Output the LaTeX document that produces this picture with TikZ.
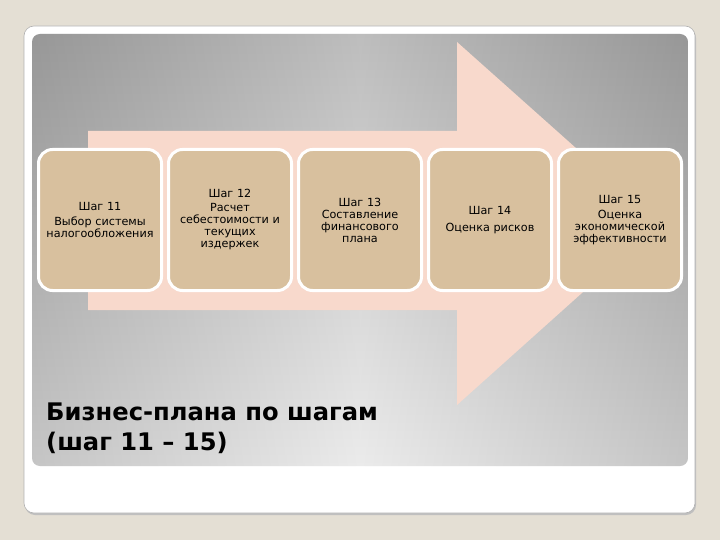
\documentclass[tikz,border=0pt]{standalone}
\usepackage{fontspec}
\setmainfont{DejaVu Sans}
\begin{document}
\begin{tikzpicture}[x=1pt,y=-1pt,
  stepbox/.style={rectangle, rounded corners=14pt, fill=boxtan, draw=white, line width=3pt,
    minimum width=123pt, minimum height=141pt, text width=122pt, align=center,
    font=\fontsize{11.2}{12}\selectfont, inner sep=0pt},
  titletext/.style={anchor=north west, align=left, font=\fontsize{24.2}{30}\selectfont\bfseries, inner sep=0pt}]
\definecolor{bgbeige}{RGB}{228,223,212}
\definecolor{boxtan}{RGB}{216,192,158}
\definecolor{arrowpink}{RGB}{248,217,204}
\definecolor{panelgray}{RGB}{178,178,178}
\definecolor{panellight}{RGB}{232,232,232}
\useasboundingbox (0,0) rectangle (720,540);
\fill[bgbeige] (0,0) rectangle (720,540);
% card shadow and card
\fill[black!25, rounded corners=10pt] (25,28) rectangle (696,515);
\fill[white, draw=black!30, line width=0.6pt, rounded corners=10pt] (24,26) rectangle (695,513);
% gray panel
\begin{scope}
  \clip[rounded corners=8pt] (32,34) rectangle (688,466);
  \shade[top color=panelgray, bottom color=panellight] (32,34) rectangle (688,466);
  \shade[left color=black, right color=black, middle color=white, opacity=0.15] (32,34) rectangle (688,466);
\end{scope}
% big arrow
\fill[arrowpink] (88,131) -- (457,131) -- (457,42) -- (660,223) -- (457,405) -- (457,310) -- (88,310) -- cycle;
% steps
\node[stepbox] (s11) at (100,220) {Шаг 11\\[3pt] Выбор системы\\ налогообложения};
\node[stepbox] (s12) at (230,220) {Шаг 12\\[2pt] Расчет\\ себестоимости и\\ текущих\\ издержек};
\node[stepbox] (s13) at (360,220) {Шаг 13\\ Составление\\ финансового\\ плана};
\node[stepbox] (s14) at (490,220) {Шаг 14\\[5pt] Оценка рисков};
\node[stepbox] (s15) at (620,220) {Шаг 15\\[3pt] Оценка\\ экономической\\ эффективности};
% title
\node[titletext] (title) at (46,403) {Бизнес-плана по шагам\\(шаг 11 – 15)};
\end{tikzpicture}
\end{document}
